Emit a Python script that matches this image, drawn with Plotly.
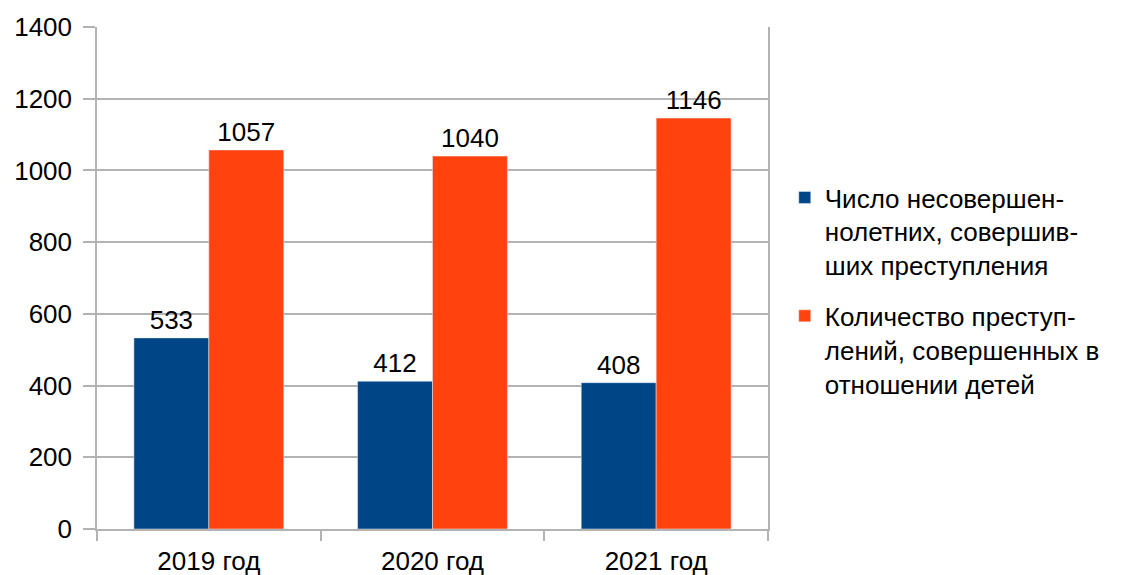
import plotly.graph_objects as go

categories = ["2019 год", "2020 год", "2021 год"]
series1_name = "Число несовершен-<br>нолетних, совершив-<br>ших преступления"
series1 = [533, 412, 408]
series2_name = "Количество преступ-<br>лений, совершенных в<br>отношении детей"
series2 = [1057, 1040, 1146]

font_family = "Liberation Sans, Arial, sans-serif"
grid = "#b3b3b3"
fs = 26

fig = go.Figure()
fig.add_bar(x=categories, y=series1, name=series1_name, marker_color="#004586",
            legendgroup="a",
            text=series1, textposition="outside", cliponaxis=False,
            textfont=dict(size=fs, color="#000000"))
fig.add_bar(x=categories, y=series2, name=series2_name, marker_color="#ff420e",
            legendgroup="b",
            text=series2, textposition="outside", cliponaxis=False,
            textfont=dict(size=fs, color="#000000"))

# page body has an 8px margin, so the figure is sized/placed to compensate
fig.update_layout(
    width=1139, height=567,
    margin=dict(l=89, r=379, t=19, b=46, autoexpand=False),
    paper_bgcolor="white", plot_bgcolor="white",
    font=dict(family=font_family, size=fs, color="#000000"),
    barmode="group", bargap=0.33, bargroupgap=0,
    showlegend=True,
    legend=dict(x=1.025, y=0.475, xanchor="left", yanchor="middle",
                font=dict(size=fs, family=font_family),
                tracegroupgap=14, itemwidth=30, valign="top",
                bgcolor="rgba(0,0,0,0)"),
)
fig.update_xaxes(showgrid=False, showline=True, linecolor=grid, linewidth=1.5,
                 ticks="outside", tickson="boundaries", ticklen=10, tickcolor=grid,
                 tickwidth=1.5, tickfont=dict(size=fs), automargin=False,
                 ticklabelstandoff=8)
fig.update_yaxes(range=[0, 1400], dtick=200, showgrid=True, gridcolor=grid, gridwidth=1.5,
                 showline=True, linecolor=grid, linewidth=1.5, mirror=True,
                 ticks="outside", ticklen=12, tickcolor=grid, tickwidth=1.5,
                 tickfont=dict(size=fs), zeroline=False, automargin=False,
                 ticklabelstandoff=6)

fig.write_html("out.html")
